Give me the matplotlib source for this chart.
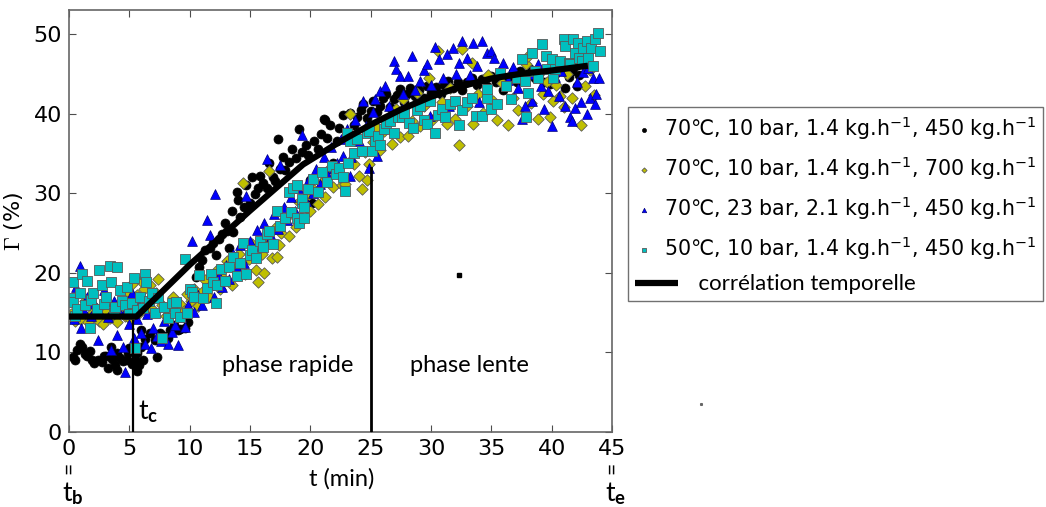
import matplotlib
matplotlib.use('Agg')
import matplotlib.pyplot as plt
import matplotlib.transforms as mtransforms
from matplotlib.legend_handler import HandlerLine2D

plt.rcParams['font.family'] = ['DejaVu Sans']
plt.rcParams['mathtext.rm'] = 'Lato'
plt.rcParams['mathtext.it'] = 'Lato:italic'
plt.rcParams['mathtext.bf'] = 'Lato:bold'

# --- donnees ---
# 70C, 10 bar, 1.4 kg/h, 450 kg/h (cercles noirs)
t_noir = [0.3, 0.5, 0.7, 0.9, 1.1, 1.3, 1.5, 1.7, 1.9, 2.1, 2.4, 2.7, 2.9, 3.1, 3.2, 3.5, 3.6, 3.8,
          4.0, 4.0, 4.2, 4.5, 4.8, 4.9, 5.0, 5.2, 5.5, 5.6, 5.6, 5.8, 6.0, 6.1,
          6.0, 6.3, 6.7, 7.1, 7.3, 7.5, 7.9, 8.2, 8.4, 8.7, 9.0, 9.2, 9.6, 9.9,
          10.2, 10.5, 10.8, 11.0, 11.3, 11.7, 11.9, 12.2, 12.4, 12.7, 12.9, 13.1, 13.3, 13.5, 13.6,
          13.9, 14.0, 14.2, 14.5, 14.7, 15.0, 15.2, 15.4, 15.7, 15.8, 16.1, 16.4, 16.6, 16.9, 17.1,
          17.3, 17.5, 17.7, 17.9, 18.2, 18.5, 18.8, 19.05, 19.3, 19.6, 19.8, 20.0, 20.1, 20.3, 20.6,
          20.9, 21.1, 21.2, 21.4, 21.6, 21.9, 22.2, 22.4, 22.7, 23.0, 23.3, 23.6, 23.9, 24.2, 24.4,
          24.7, 25.0, 25.2, 25.5, 25.8, 26.0, 26.3, 26.6, 26.9, 27.2, 27.4, 27.8, 28.0, 28.3, 28.7,
          29.0, 29.4, 29.7, 30.0, 30.4, 30.8, 31.1, 31.4, 31.8, 32.2, 32.6, 33.0, 33.4, 33.8, 34.2,
          34.6, 35.0, 35.4, 35.7, 36.0, 36.4, 36.8, 37.1, 37.4, 37.8, 38.2, 38.6, 39.0, 39.4, 39.9,
          40.3, 40.7, 41.1, 41.4, 41.7, 41.9, 42.1, 42.3]
g_noir = [9.4, 9.0, 10.3, 11.0, 10.7, 9.8, 9.6, 10.2, 9.0, 8.7, 9.0, 8.8, 9.5, 9.6, 8.1, 10.7, 9.2, 8.4,
          9.9, 7.8, 9.3, 8.9, 9.0, 9.9, 10.5, 8.6, 9.0, 9.9, 7.6, 8.4, 10.7, 9.0,
          12.8, 11.7, 12.4, 11.5, 9.4, 12.4, 12.0, 11.8, 12.8, 13.4, 12.8, 12.9, 13.0, 13.8,
          17.5, 19.5, 20.7, 21.6, 22.8, 23.1, 23.7, 22.2, 24.3, 24.9, 26.3, 25.3, 23.1, 27.8, 25.1,
          30.1, 29.1, 27.0, 28.3, 31.0, 28.7, 32.0, 29.9, 30.7, 32.2, 31.3, 30.7, 33.8, 32.0, 31.5,
          36.8, 33.0, 34.5, 32.9, 33.9, 35.6, 34.4, 38.1, 35.2, 36.0, 34.8, 31.6, 28.8, 36.5, 35.5,
          37.4, 39.3, 39.2, 36.9, 38.5, 33.8, 36.6, 38.2, 39.8, 37.4, 40.1, 38.6, 39.5, 40.5, 41.2,
          39.4, 40.3, 41.6, 40.2, 41.0, 42.0, 42.5, 40.8, 41.8, 42.3, 43.1, 41.5, 42.4, 43.2, 42.2,
          43.0, 42.0, 43.5, 42.6, 43.3, 42.4, 43.6, 44.1, 43.2, 44.0, 43.0, 43.9, 44.5, 43.6, 44.3,
          43.4, 44.7, 43.9, 45.0, 42.9, 44.6, 45.2, 44.0, 45.4, 44.8, 45.6, 44.4, 45.2, 44.0, 43.7,
          45.0, 46.4, 43.2, 44.6, 45.3, 46.0, 43.5, 44.8]

# 70C, 10 bar, 1.4 kg/h, 700 kg/h (losanges jaunes)
t_jaune = [0.2, 0.5, 0.8, 1.0, 1.3, 1.6, 1.9, 2.2, 2.5, 2.8, 3.1, 3.4, 3.7, 4.0, 4.3, 4.6, 4.9, 5.1,
           5.2, 5.4, 5.6, 5.8, 6.0, 6.2, 6.5, 6.7, 6.9, 7.2, 7.4, 7.7,
           8.0, 8.3, 8.6, 8.9, 9.2, 9.5, 9.8, 10.1, 10.4, 10.7, 11.0, 11.3, 11.6, 11.9, 12.2, 12.5,
           12.8, 13.1, 13.5, 13.8, 14.1, 14.4, 14.6, 14.9, 15.2, 15.5, 15.7, 16.0, 16.2, 16.5, 16.6,
           16.8, 17.1, 17.2, 17.4, 17.6, 17.9, 18.2, 18.5, 18.8, 19.1, 19.4, 19.7, 20.0, 20.3, 20.6,
           20.9, 21.2, 21.6, 21.9, 22.3, 22.6, 22.9, 23.3, 23.6, 24.0, 24.3, 24.5, 24.7, 24.9, 25.2,
           25.5, 25.8, 26.1, 26.5, 26.8, 27.1, 27.4, 27.7, 28.1, 28.4, 28.8, 29.1, 29.4, 29.8, 30.1,
           30.6, 30.9, 31.3, 31.6, 32.0, 32.3, 32.6, 33.0, 33.4, 33.5, 33.9, 34.3, 34.7, 35.1, 35.5,
           35.9, 36.4, 36.8, 37.2, 37.6, 37.9, 38.0, 38.3, 38.9, 39.3, 39.6, 39.9, 40.1, 40.4, 40.7,
           41.0, 41.3, 41.7, 42.0, 42.4, 42.8, 43.2, 43.5]
g_jaune = [14.8, 13.9, 15.3, 14.2, 16.4, 13.8, 14.9, 15.6, 14.0, 13.6, 15.1, 14.3, 16.0, 13.8, 15.4,
           14.6, 17.6, 14.1, 18.6, 15.8, 17.2, 14.9, 19.0, 17.9, 16.3, 18.4, 15.4, 17.4, 19.2, 16.0,
           14.6, 15.8, 17.0, 14.9, 16.1, 15.2, 17.3, 16.4, 18.0, 15.8, 17.6, 19.1, 16.9, 18.7, 20.2,
           17.9, 19.4, 21.5, 18.4, 20.6, 22.3, 31.3, 19.8, 21.7, 23.6, 20.4, 18.8, 22.4, 20.0, 24.2,
           32.8, 21.8, 25.6, 22.0, 23.5, 25.0, 26.8, 24.6, 27.5, 25.8, 28.9, 26.7, 29.6, 27.8, 30.4,
           28.6, 31.3, 29.5, 33.2, 30.8, 32.5, 31.0, 31.2, 40.0, 33.6, 32.2, 30.5, 35.2, 31.6, 33.7,
           36.4, 38.2, 35.4, 37.8, 39.5, 36.2, 40.6, 37.0, 41.8, 37.2, 39.0, 42.6, 38.4, 40.9, 44.5,
           39.2, 47.9, 41.5, 38.7, 43.2, 39.3, 36.0, 48.1, 41.0, 46.4, 38.7, 42.5, 40.1, 44.8, 41.6,
           39.2, 43.8, 38.5, 42.0, 40.4, 44.6, 46.2, 47.2, 41.3, 39.3, 42.5, 44.0, 39.5, 41.6, 43.6,
           42.2, 40.8, 44.9, 42.0, 46.8, 38.5, 43.4, 45.5, 42.3]

# 70C, 23 bar, 2.1 kg/h, 450 kg/h (triangles bleus)
t_bleu = [0.2, 0.4, 0.6, 0.9, 1.0, 1.2, 1.5, 1.8, 2.1, 2.4, 2.6, 2.9, 3.2, 3.5, 3.7, 4.0, 4.2, 4.5,
          4.6, 4.8, 5.0, 5.2, 5.4, 5.6, 5.8, 6.0, 6.3, 6.5, 6.8, 7.0, 7.3, 7.6, 7.9, 8.2, 8.5, 8.8,
          9.0, 9.3, 9.6, 9.9,
          10.2, 10.4, 10.7, 11.0, 11.4, 11.6, 11.7, 12.0, 12.1, 12.4, 12.7, 13.0, 13.3, 13.6, 13.9,
          14.2, 14.5, 14.7, 15.0, 15.3, 15.6, 15.9, 16.2, 16.4, 16.7, 17.0, 17.3, 17.5, 17.8, 18.1,
          18.4, 18.7, 19.0, 19.3, 19.6, 19.9, 20.2, 20.5, 20.8, 21.1, 21.4, 21.7, 22.0, 22.2, 22.5,
          22.7, 23.0, 23.3, 23.4, 23.7, 24.0, 24.4, 24.6, 24.9, 25.2, 25.4, 25.5, 25.8, 26.2, 26.5,
          26.9, 27.1, 27.4, 27.6, 27.7, 28.1, 28.4, 28.7, 29.1, 29.4, 29.7, 29.9, 30.0, 30.3, 30.7,
          31.0, 31.3, 31.5, 31.8, 32.1, 32.3, 32.6, 33.0, 33.2, 33.5, 33.8, 34.0, 34.2, 34.6, 35.0,
          35.2, 35.6, 36.0, 36.4, 36.8, 37.2, 37.5, 37.8, 38.1, 38.4, 38.9, 39.1, 39.4, 39.7, 40.0,
          40.3, 40.6, 40.8, 41.1, 41.5, 41.7, 41.9, 42.1, 42.4, 42.6, 42.9, 43.0, 43.2, 43.4, 43.6,
          43.7, 43.9]
g_bleu = [16.5, 14.2, 18.2, 20.9, 13.0, 15.4, 17.0, 14.6, 16.2, 11.5, 15.0, 17.8, 14.4, 10.3, 16.4,
          12.2, 14.9, 10.7, 7.5, 15.6, 13.6, 17.5, 11.8, 14.2, 16.0, 12.4, 11.0, 14.8, 10.6, 13.0,
          12.1, 11.4, 14.0, 11.0, 12.6, 13.5, 10.9, 14.4, 13.2, 16.0,
          24.0, 15.1, 17.2, 16.0, 26.6, 18.4, 24.7, 17.0, 29.9, 19.6, 18.2, 21.0, 19.2, 22.4, 20.6,
          23.5, 21.2, 29.7, 24.0, 22.5, 25.4, 23.4, 26.2, 34.3, 24.6, 27.4, 25.5, 33.5, 28.3, 26.6,
          29.5, 27.8, 30.6, 37.3, 29.0, 31.8, 30.0, 33.0, 31.2, 34.6, 32.4, 35.8, 33.2, 33.8, 36.8,
          34.7, 38.0, 32.2, 34.6, 39.2, 36.5, 41.6, 38.4, 33.1, 40.2, 41.8, 34.7, 42.8, 43.5, 41.0,
          46.6, 45.6, 44.7, 40.6, 42.4, 44.7, 47.2, 43.0, 44.1, 45.5, 46.2, 39.7, 43.6, 48.4, 46.8,
          44.5, 47.5, 41.0, 48.2, 45.0, 46.4, 49.1, 47.0, 44.8, 48.9, 46.0, 41.5, 49.1, 47.6, 47.9,
          47.0, 45.3, 46.4, 44.2, 45.8, 43.2, 39.3, 41.0, 45.0, 41.6, 46.2, 43.4, 40.6, 42.8, 38.4,
          44.6, 42.2, 45.4, 41.0, 39.6, 39.1, 40.7, 44.0, 41.4, 45.2, 40.0, 45.7, 41.9, 44.4, 41.2,
          42.5, 44.5]

# 50C, 10 bar, 1.4 kg/h, 450 kg/h (carres cyan)
t_cyan = [0.1, 0.3, 0.3, 0.5, 0.7, 0.9, 1.1, 1.3, 1.5, 1.7, 1.8, 2.0, 2.3, 2.5, 2.7, 2.9, 3.1, 3.4,
          3.5, 3.7, 3.8, 4.0, 4.2, 4.4, 4.6, 4.8, 5.0, 5.2, 5.4, 5.5, 5.6, 5.9, 6.1, 6.3, 6.4, 6.6,
          6.9, 7.1, 7.4, 7.7, 7.9, 8.2, 8.5, 8.8, 8.9, 9.2, 9.6, 9.8, 10.0, 10.2, 10.4, 10.8, 11.1,
          11.4, 11.8, 11.9, 12.2, 12.3, 12.6, 12.9, 13.3, 13.6, 13.9, 14.2, 14.4, 14.7, 15.0, 15.2,
          15.5, 15.8, 16.1, 16.4, 16.6, 16.9, 17.2, 17.5, 17.9, 18.2, 18.4, 18.6, 18.9, 18.9, 19.1,
          19.3, 19.3, 19.5, 19.5, 19.8, 20.2, 20.6, 21.0, 21.4, 21.8, 22.1, 22.4, 22.7, 22.9, 23.0,
          23.1, 23.3, 23.6, 23.9, 24.3, 24.7, 24.9, 25.1, 25.4, 25.6, 25.8, 26.1, 26.3, 26.6, 26.9,
          27.3, 27.6, 27.8, 28.2, 28.5, 28.8, 29.1, 29.4, 29.7, 29.9, 30.3, 30.6, 30.9, 31.2, 31.6,
          32.0, 32.3, 32.6, 33.0, 33.4, 33.7, 34.2, 34.6, 34.6, 35.0, 35.5, 35.7, 36.2, 36.6, 37.1,
          37.5, 37.8, 37.9, 38.0, 38.4, 38.6, 38.9, 39.2, 39.5, 39.6, 40.0, 40.1, 40.3, 40.7, 41.0,
          41.1, 41.4, 41.5, 41.8, 41.9, 42.2, 42.3, 42.5, 42.6, 42.9, 43.0, 43.3, 43.4, 43.6, 43.8,
          44.0]
g_cyan = [16.8, 18.8, 16.3, 14.6, 15.4, 17.5, 19.9, 15.9, 19.0, 13.0, 16.6, 17.4, 15.5, 20.4, 18.4,
          16.1, 16.9, 20.9, 18.8, 14.9, 15.7, 20.7, 17.8, 16.4, 15.9, 18.2, 14.8, 16.2, 19.3, 10.5,
          15.3, 17.0, 15.6, 19.9, 18.8, 16.4, 17.4, 15.0, 16.8, 11.8, 15.7, 14.3, 16.2, 15.0, 16.3,
          14.4, 21.7, 15.0, 18.0, 17.6, 16.9, 19.7, 16.8, 18.1, 19.9, 18.8, 16.2, 18.4, 20.5, 19.0,
          20.7, 22.0, 19.6, 21.2, 23.7, 19.9, 22.2, 22.8, 21.8, 24.0, 23.2, 24.9, 25.3, 23.6, 27.8,
          25.9, 26.9, 30.1, 27.6, 30.7, 31.0, 26.9, 26.3, 28.8, 29.3, 26.9, 28.2, 30.5, 31.8, 30.2,
          32.6, 31.4, 33.4, 32.4, 33.1, 32.0, 30.3, 37.5, 33.8, 36.6, 35.0, 36.8, 35.3, 37.5, 37.8,
          35.3, 36.5, 37.2, 36.0, 38.0, 38.8, 39.1, 37.6, 39.5, 39.5, 40.1, 38.8, 38.2, 40.4, 41.0,
          39.2, 38.7, 41.6, 37.5, 39.8, 40.6, 39.5, 41.2, 41.6, 38.6, 40.4, 41.4, 42.0, 39.7, 39.7,
          42.0, 43.1, 40.6, 41.2, 45.1, 43.5, 41.8, 44.4, 46.8, 44.1, 39.5, 42.6, 47.6, 45.3, 44.4,
          48.7, 47.2, 45.6, 46.9, 44.4, 45.6, 46.6, 49.4, 48.5, 46.4, 46.2, 49.4, 47.6, 48.9, 47.0,
          46.6, 48.2, 49.1, 47.0, 48.2, 46.0, 49.4, 50.1, 47.9]

# correlation temporelle
t_corr = [0.0, 5.6, 10.0, 15.0, 19.4, 22.5, 25.0, 27.5, 30.0, 32.5, 35.0, 37.5, 40.0, 43.0]
g_corr = [14.5, 14.5, 21.0, 27.8, 33.6, 36.5, 38.6, 40.5, 42.1, 43.4, 44.4, 45.0, 45.4, 46.0]

t_c = 5.3           # debut de la phase rapide
t_lente = 25.0      # debut de la phase lente
labels = ['70\u2103, 10 bar, 1.4 kg.h$^{-1}$, 450 kg.h$^{-1}$',
          '70\u2103, 10 bar, 1.4 kg.h$^{-1}$, 700 kg.h$^{-1}$',
          '70\u2103, 23 bar, 2.1 kg.h$^{-1}$, 450 kg.h$^{-1}$',
          '50\u2103, 10 bar, 1.4 kg.h$^{-1}$, 450 kg.h$^{-1}$',
          '      corr\u00e9lation temporelle']


class WideLine(HandlerLine2D):
    def create_artists(self, legend, orig_handle, xdescent, ydescent,
                       width, height, fontsize, trans):
        return super().create_artists(legend, orig_handle, xdescent, ydescent,
                                      width * 2.3, height, fontsize, trans)


fig = plt.figure(figsize=(10.46, 5.07), dpi=100)
ax = fig.add_axes([69 / 1046, 1 - 432 / 507, 543 / 1046, 422 / 507])

h1 = ax.scatter(t_noir, g_noir, s=42, marker='o', c='k', edgecolors='k', linewidths=0.5, zorder=2)
h2 = ax.scatter(t_jaune, g_jaune, s=34, marker='D', c='#bfbf00', edgecolors='0.35', linewidths=0.6, zorder=2)
h3 = ax.scatter(t_bleu, g_bleu, s=50, marker='^', c='#0000ff', edgecolors='#00007a', linewidths=0.5, zorder=2)
h4 = ax.scatter(t_cyan, g_cyan, s=42, marker='s', c='#00bfbf', edgecolors='0.35', linewidths=0.6, zorder=2)
h5, = ax.plot(t_corr, g_corr, color='k', lw=4.5, solid_capstyle='butt', zorder=5)

ax.plot([t_c, t_c], [0, 14], color='k', lw=1.6, zorder=6)
ax.plot([t_lente, t_lente], [0, 33.2], color='k', lw=2, zorder=6)
ax.plot([32.3], [19.7], 's', color='k', ms=2.2)
ax.plot([52.4], [3.5], 's', color='0.4', ms=1.2, clip_on=False)

ax.set_xlim(0, 45)
ax.set_ylim(0, 53)
ax.set_xticks(range(0, 46, 5))
ax.set_yticks(range(0, 51, 10))
ax.tick_params(direction='in', top=True, right=True, length=5, width=0.8,
               labelsize=16, pad=5, color='0.3')
for sp in ax.spines.values():
    sp.set_color('0.4')
    sp.set_linewidth(1.2)

ax.set_ylabel(r'$\Gamma$ (%)', fontsize=16, math_fontfamily='cm', labelpad=6)

ax.text(12.7, 8.3, 'phase rapide', fontfamily='Lato', fontsize=17, va='center')
ax.text(33.2, 8.4, 'phase lente', fontfamily='Lato', fontsize=17, va='center', ha='center')
ax.text(5.75, 2.6, r'$\mathrm{t}_{\mathbf{c}}$', math_fontfamily='custom', fontsize=19, va='center')

tr = mtransforms.blended_transform_factory(ax.transData, ax.transAxes)
ax.text(22.6, -0.11, 't (min)', transform=tr, fontfamily='Lato', fontsize=17,
        ha='center', va='center')
for x, sub in [(0.3, 'b'), (45.3, 'e')]:
    ax.text(x - 0.3, -0.085, '=', transform=tr, rotation=90, fontsize=15,
            ha='center', va='center', fontfamily='Lato')
    ax.text(x, -0.145, r'$\mathrm{t}_{\mathbf{%s}}$' % sub, transform=tr,
            math_fontfamily='custom', fontsize=19, ha='center', va='center')

leg = fig.legend([h1, h2, h3, h4, h5], labels, loc='upper left',
                 bbox_to_anchor=(628 / 1046, 1 - 107 / 507), borderaxespad=0,
                 fontsize=14.8, handlelength=0.9, handletextpad=0.5,
                 labelspacing=0.6, markerscale=0.45, scatterpoints=1,
                 fancybox=False, edgecolor='0.3', borderpad=0.35,
                 handler_map={h5: WideLine()})
leg.get_frame().set_linewidth(1.0)
leg.get_texts()[-1].set_fontfamily('Lato')
leg.get_texts()[-1].set_fontsize(16)

fig.savefig('out.png', dpi=100)
